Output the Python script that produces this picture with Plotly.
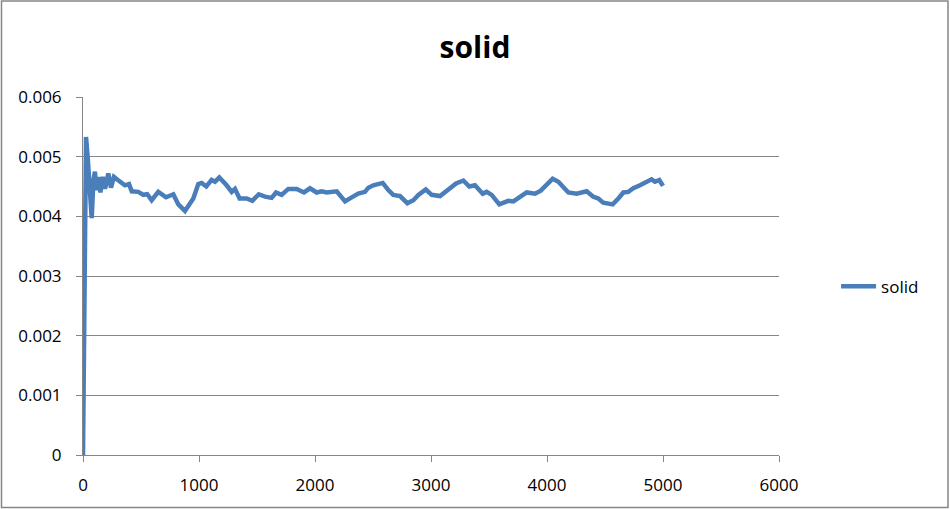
import plotly.graph_objects as go

# values
steps = [0, 26, 40, 55, 75, 90, 103, 115, 135, 150, 170, 190, 218, 241, 267, 300,
         319, 362, 397, 420, 477, 520, 554, 592, 649, 716, 779, 822, 879, 951, 994,
         1023, 1063, 1109, 1138, 1175, 1238, 1282, 1310, 1350, 1411, 1460, 1515, 1569,
         1626, 1664, 1712, 1770, 1842, 1905, 1957, 2014, 2057, 2101, 2187, 2259, 2302,
         2373, 2431, 2460, 2503, 2584, 2632, 2675, 2733, 2796, 2848, 2891, 2955, 3006,
         3078, 3121, 3216, 3279, 3330, 3379, 3446, 3480, 3523, 3589, 3666, 3710, 3767,
         3825, 3897, 3946, 3998, 4049, 4098, 4135, 4184, 4256, 4342, 4399, 4442, 4485,
         4566, 4615, 4658, 4701, 4744, 4802, 4859, 4902, 4931, 4968, 5000]
solid = [0.0, 0.00533, 0.0050, 0.0046, 0.00397, 0.0046, 0.00475, 0.00444, 0.00466,
         0.00440, 0.00466, 0.00446, 0.00472, 0.00448, 0.00466, 0.00461, 0.00458,
         0.00452, 0.00454, 0.00442, 0.00441, 0.00436, 0.00437, 0.00427, 0.00441,
         0.00432, 0.00437, 0.00420, 0.00409, 0.00430, 0.00454, 0.00456, 0.00450,
         0.00461, 0.00458, 0.00465, 0.00452, 0.00441, 0.00446, 0.00430, 0.00430,
         0.00426, 0.00437, 0.00433, 0.00431, 0.00440, 0.00436, 0.00446, 0.00446,
         0.00440, 0.00447, 0.00440, 0.00442, 0.00440, 0.00442, 0.00425, 0.00430,
         0.00438, 0.00441, 0.00448, 0.00452, 0.00456, 0.00444, 0.00436, 0.00434,
         0.00422, 0.00427, 0.00436, 0.00445, 0.00436, 0.00434, 0.00440, 0.00455,
         0.00460, 0.00450, 0.00452, 0.00438, 0.00441, 0.00436, 0.00420, 0.00426,
         0.00425, 0.00433, 0.00440, 0.00438, 0.00443, 0.00453, 0.00463, 0.00458,
         0.00450, 0.00440, 0.00438, 0.00442, 0.00433, 0.00430, 0.00423, 0.00420,
         0.00430, 0.00440, 0.00441, 0.00447, 0.00452, 0.00458, 0.00462, 0.00458,
         0.00461, 0.00451]

FONT = "Open Sans"
GRID = "#868686"

fig = go.Figure()
fig.add_trace(go.Scatter(x=steps, y=solid, mode="lines", name="solid",
                         line=dict(color="#4a7ebb", width=4.5)))

fig.update_layout(
    width=950, height=509,
    margin=dict(l=83, r=171, t=97, b=54),
    paper_bgcolor="white", plot_bgcolor="white",
    font=dict(family=FONT, size=17, color="black"),
    title=dict(text="<b>solid</b>", x=0.5, xref="container", y=1 - 47 / 509,
               yanchor="middle", xanchor="center", font=dict(size=30)),
    showlegend=True,
    legend=dict(x=1.082, y=0.47, xanchor="left", yanchor="middle", itemwidth=35,
                font=dict(size=17), bgcolor="rgba(0,0,0,0)"),
    xaxis=dict(range=[0, 6000], dtick=1000, showgrid=False, zeroline=False,
               showline=True, linecolor=GRID, linewidth=1,
               ticks="outside", ticklen=6, tickcolor=GRID, ticklabelstandoff=9),
    yaxis=dict(range=[0, 0.006], dtick=0.001, tickformat=".3~f",
               showgrid=True, gridcolor=GRID, gridwidth=1, zeroline=False,
               showline=True, linecolor=GRID, linewidth=1,
               ticks="outside", ticklen=6, tickcolor=GRID, ticklabelstandoff=11),
)

# outer chart border
fig.add_shape(type="rect", xref="paper", yref="paper",
              x0=-0.1171, x1=1.2428, y0=-0.1466, y1=1.268,
              line=dict(color=GRID, width=1.5), layer="below")

# drop the page's default body margin so the chart sits at the window corner
fig.write_html("out.html", config={"displayModeBar": False},
               post_script="document.body.style.margin='0';")
